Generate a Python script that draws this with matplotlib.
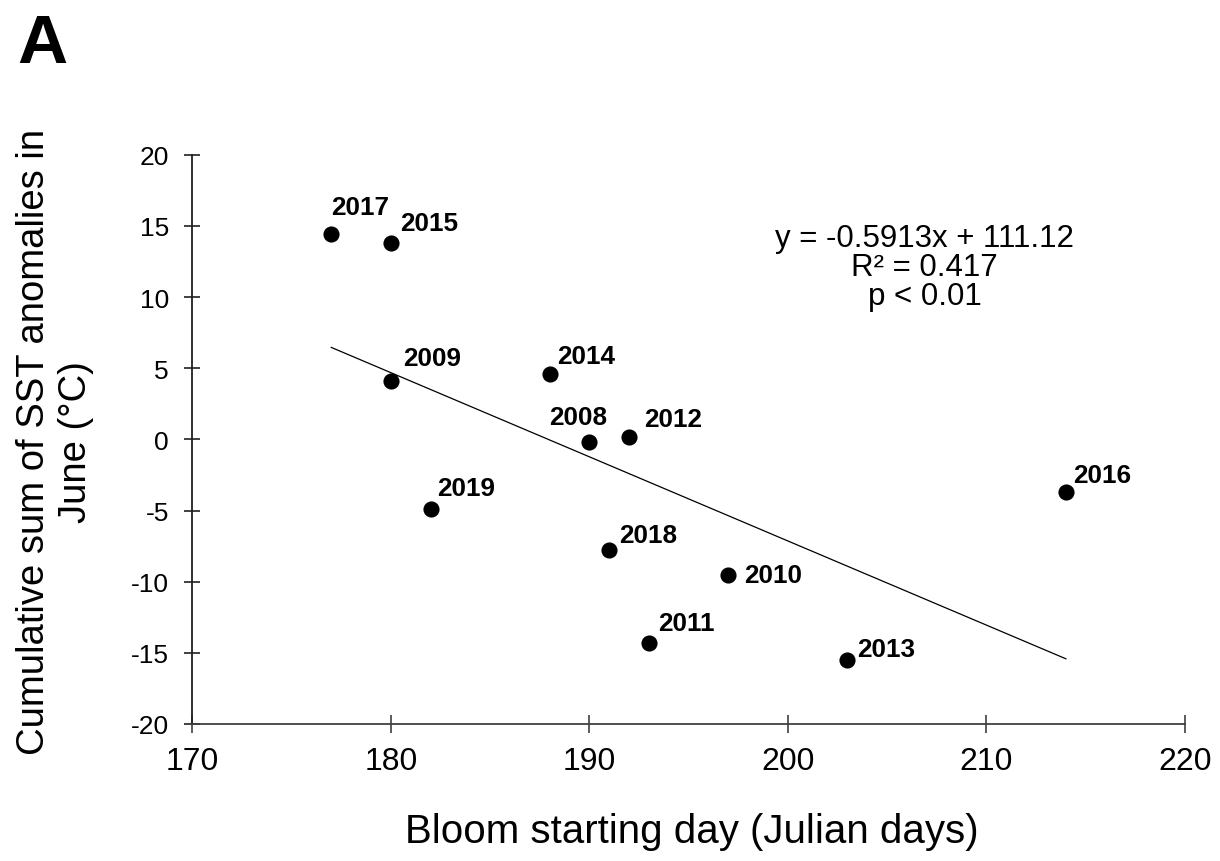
import matplotlib
matplotlib.use("Agg")
import matplotlib.pyplot as plt

plt.rcParams['font.family'] = ['Liberation Sans', 'DejaVu Sans']

# ---- data ----
years = ['2017', '2015', '2009', '2014', '2008', '2012', '2019', '2018', '2010', '2011', '2013', '2016']
bloom_day = [177, 180, 180, 188, 190, 192, 182, 191, 197, 193, 203, 214]
sst_sum = [14.4, 13.8, 4.1, 4.6, -0.2, 0.2, -4.9, -7.8, -9.5, -14.3, -15.5, -3.7]
slope = -0.5913
intercept = 111.12
eq_lines = ['y = -0.5913x + 111.12', 'R² = 0.417', 'p < 0.01']
x_ticks = [170, 180, 190, 200, 210, 220]
y_ticks = [-20, -15, -10, -5, 0, 5, 10, 15, 20]

# label offsets (pixels) and alignment for each year label
label_offsets = {
    '2017': (0, 20, 'left', 'baseline'),
    '2015': (9, 13, 'left', 'baseline'),
    '2009': (12, 16, 'left', 'baseline'),
    '2014': (7, 11, 'left', 'baseline'),
    '2008': (-11, 18, 'center', 'baseline'),
    '2012': (15, 11, 'left', 'baseline'),
    '2019': (7, 14, 'left', 'baseline'),
    '2018': (10, 8, 'left', 'baseline'),
    '2010': (16, 0, 'left', 'center'),
    '2011': (9, 13, 'left', 'baseline'),
    '2013': (10, 4, 'left', 'baseline'),
    '2016': (7, 10, 'left', 'baseline'),
}

W, H = 1220, 862
fig = plt.figure(figsize=(W / 100, H / 100), dpi=100)
ax = fig.add_axes([192.3 / W, 1 - 725 / H, (1185 - 192.3) / W, (725 - 155.7) / H])

ax.scatter(bloom_day, sst_sum, s=135, color='black', zorder=3, linewidths=0)

x0, x1 = min(bloom_day), max(bloom_day)
ax.plot([x0, x1], [slope * x0 + intercept, slope * x1 + intercept],
        color='black', linewidth=0.9, zorder=2)

for yr, xv, yv in zip(years, bloom_day, sst_sum):
    dx, dy, ha, va = label_offsets[yr]
    ax.annotate(yr, (xv, yv), xytext=(dx, dy), textcoords='offset pixels',
                ha=ha, va=va, fontsize=18.8, fontweight='bold', color='black')

ax.set_xlim(170, 220)
ax.set_ylim(-20, 20)
ax.set_xticks(x_ticks)
ax.set_yticks(y_ticks)
ax.set_xticklabels([str(t) for t in x_ticks], fontsize=23)
ax.set_yticklabels([str(t) for t in y_ticks], fontsize=19)

for s in ['top', 'right']:
    ax.spines[s].set_visible(False)
ax.spines['bottom'].set_color('#404040')
ax.spines['left'].set_color('#202020')
ax.spines['bottom'].set_linewidth(1.3)
ax.spines['left'].set_linewidth(1.3)
ax.tick_params(axis='x', direction='inout', length=13, width=1.2, color='#404040', pad=9)
ax.tick_params(axis='y', direction='inout', length=11.5, width=1.2, color='#202020', pad=11)

ax.set_xlabel('Bloom starting day (Julian days)', fontsize=29)
ax.xaxis.set_label_coords(692 / W, 1 - 843 / H, transform=fig.transFigure)
ax.xaxis.label.set_verticalalignment('baseline')

ax.set_ylabel('Cumulative sum of SST anomalies in\nJune (°C)', fontsize=27.5, linespacing=1.2)
ax.yaxis.set_label_coords(55 / W, 1 - 442 / H, transform=fig.transFigure)
ax.yaxis.label.set_verticalalignment('center')

fig.text(924.5 / W, 1 - 304.5 / H, '\n'.join(eq_lines), ha='center', va='baseline',
         multialignment='center', fontsize=22.5, linespacing=0.95)

fig.text(17 / W, 1 - 63 / H, 'A', fontsize=50, fontweight='bold', va='baseline', ha='left')

fig.savefig('out.png', dpi=100)
